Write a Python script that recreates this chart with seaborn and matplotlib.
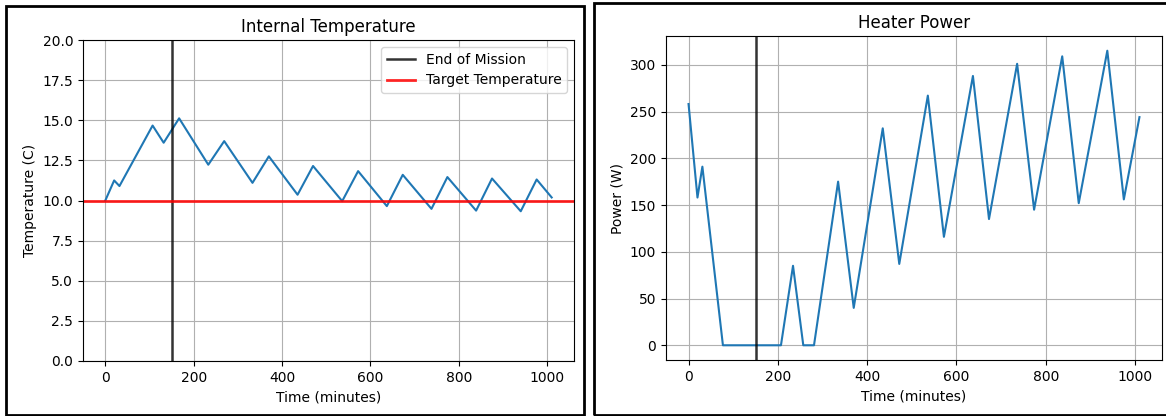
import numpy as np
import pandas as pd
import seaborn as sns
import matplotlib.pyplot as plt
from matplotlib.patches import Rectangle

# values
temp_time = [0, 20, 32, 107, 132, 167, 233, 269, 333, 370, 435, 470, 536, 572,
             637, 673, 738, 774, 839, 875, 940, 976, 1010]
temp_vals = [10.0, 11.25, 10.9, 14.67, 13.6, 15.12, 12.23, 13.7, 11.1, 12.75, 10.36,
             12.15, 9.96, 11.83, 9.65, 11.6, 9.48, 11.46, 9.37, 11.37, 9.33, 11.31, 10.19]

power_time = [0, 20, 31, 77, 207, 234, 257, 281, 335, 370, 435, 472, 536, 572,
              637, 673, 736, 774, 837, 874, 938, 975, 1010]
power_vals = [258, 158, 191, 0, 0, 85, 0, 0, 175, 40, 232, 87, 267, 116,
              288, 135, 301, 145, 309, 152, 315, 156, 244]

end_of_mission = 150
target_temp = 10

temp_df = pd.DataFrame({'time': temp_time, 'temp': temp_vals})
power_df = pd.DataFrame({'time': power_time, 'power': power_vals})

W, H = 1166, 416
fig = plt.figure(figsize=(W / 100, H / 100), dpi=100)
plt.rcParams['font.size'] = 10

ax1 = fig.add_axes([83 / W, 1 - 361 / H, (574 - 83) / W, (361 - 40) / H])
ax2 = fig.add_axes([666 / W, 1 - 360 / H, (1162 - 666) / W, (360 - 36) / H])

# left: internal temperature
sns.lineplot(data=temp_df, x='time', y='temp', ax=ax1, color='#1f77b4', lw=1.5)
ax1.axvline(end_of_mission, color='black', alpha=0.8, lw=1.8, label='End of Mission')
ax1.axhline(target_temp, color='red', alpha=0.85, lw=2, label='Target Temperature')
ax1.set_ylim(0, 20)
ax1.set_title('Internal Temperature', fontsize=12)
ax1.set_xlabel('Time (minutes)')
ax1.set_ylabel('Temperature (C)')
ax1.grid(True)
ax1.legend(loc='upper right')

# right: heater power
sns.lineplot(data=power_df, x='time', y='power', ax=ax2, color='#1f77b4', lw=1.5)
ax2.axvline(end_of_mission, color='black', alpha=0.8, lw=1.8)
ax2.set_title('Heater Power', fontsize=12)
ax2.set_xlabel('Time (minutes)')
ax2.set_ylabel('Power (W)')
ax2.grid(True)

# screenshot frames round each panel
fig.add_artist(Rectangle((6 / W, 1 / H), 578 / W, 409 / H, transform=fig.transFigure,
                         fill=False, lw=2, edgecolor='black'))
fig.add_artist(Rectangle((594 / W, 1 / H), 600 / W, 412 / H, transform=fig.transFigure,
                         fill=False, lw=2, edgecolor='black'))

fig.savefig('out.png', dpi=100)
